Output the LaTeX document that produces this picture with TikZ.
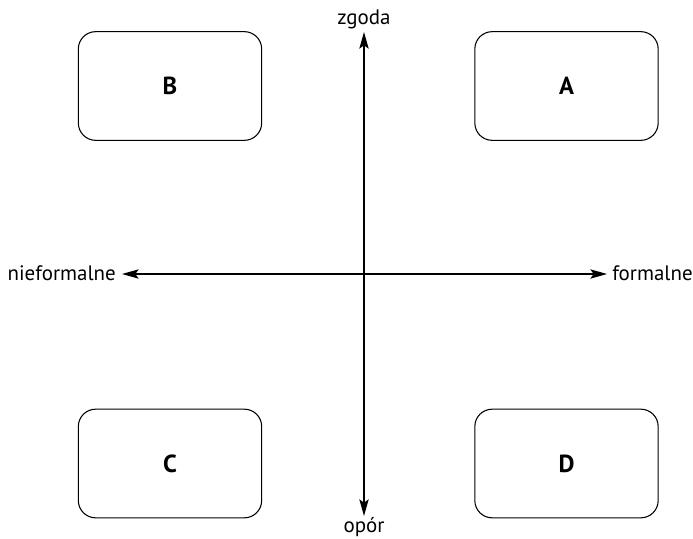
\documentclass[tikz,border=0pt]{standalone}
\usepackage{fontspec}
\setmainfont{PT Sans}
\usetikzlibrary{arrows.meta}
\begin{document}
\begin{tikzpicture}[x=0.75pt,y=-0.75pt,
  quad/.style={draw, line width=0.8pt, rounded corners=13pt, minimum width=137.5pt, minimum height=81.5pt, font=\fontsize{18.5}{22}\selectfont\bfseries, inner sep=0pt},
  axis/.style={line width=0.9pt, {Stealth[length=12.5pt,width=7pt,inset=2.5pt]}-{Stealth[length=12.5pt,width=7pt,inset=2.5pt]}},
  lab/.style={font=\fontsize{15.7}{18}\selectfont, inner sep=0pt}]
  \useasboundingbox (0,0) rectangle (693,539);
  % quadrant boxes
  \node[quad] (B) at (170,86) {B};
  \node[quad] (A) at (566.5,86) {A};
  \node[quad] (C) at (170,463.5) {C};
  \node[quad] (D) at (566.5,463.5) {D};
  % axis end points
  \coordinate (top) at (364,32);
  \coordinate (bot) at (364,516);
  \coordinate (lft) at (122,274);
  \coordinate (rgt) at (607,274);
  \draw[axis] (bot) -- (top);
  \draw[axis] (lft) -- (rgt);
  % axis labels
  \node[lab, anchor=base] (zg) at (364,25) {zgoda};
  \node[lab, anchor=base] (op) at (364,532) {opór};
  \node[lab, anchor=base east] (nf) at (116,280) {nieformalne};
  \node[lab, anchor=base west] (fo) at (612,280) {formalne};
\end{tikzpicture}
\end{document}
